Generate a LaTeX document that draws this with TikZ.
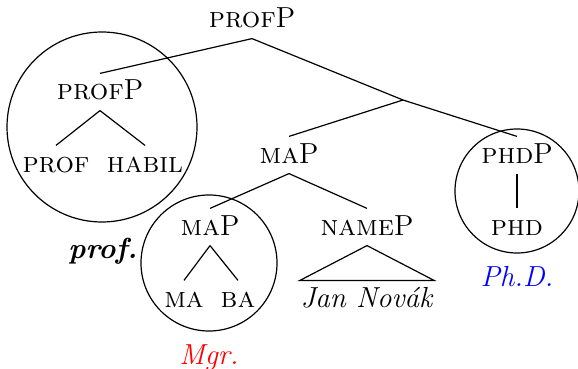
\documentclass[tikz,border=0pt]{standalone}
\usepackage{tikz}
\usepackage{xcolor}
\usetikzlibrary{positioning}
\definecolor{degRed}{RGB}{255,0,0}
\definecolor{degBlue}{RGB}{0,0,255}

\begin{document}
\begin{tikzpicture}[
        x=0.5pt, y=-0.5pt,
        line width=0.6pt,
        cat/.style={anchor=base, inner sep=3pt, text height=10pt, text depth=2pt, font=\fontsize{14.5}{17}\selectfont},
        title/.style={inner sep=0pt, font=\fontsize{14.5}{17}\selectfont\itshape},
        ring/.style={circle, draw, inner sep=0pt}
    ]
        \useasboundingbox (0,0) rectangle (578,369);

        % Rings round the degree phrases
        \node[ring, minimum size=95pt] (profring) at (102,127) {};
        \node[ring, minimum size=68pt] (maring) at (209,263) {};
        \node[ring, minimum size=62pt] (phdring) at (517,191) {};

        % Categories
        \node[cat] (root) at (252,28) {\textsc{prof}P};
        \coordinate (bar) at (403,100);
        \node[cat] (profp) at (100,100) {\textsc{prof}P};
        \node[cat] (prof) at (56,172) {\textsc{prof}};
        \node[cat] (habil) at (145,172) {\textsc{habil}};
        \node[cat] (map) at (289,163) {\textsc{ma}P};
        \node[cat] (phdp) at (517,163) {\textsc{phd}P};
        \node[cat] (phd) at (517,235) {\textsc{phd}};
        \node[cat] (mapin) at (210,235) {\textsc{ma}P};
        \node[cat] (ma) at (184,307) {\textsc{ma}};
        \node[cat] (ba) at (238,307) {\textsc{ba}};
        \node[cat] (namep) at (367,235) {\textsc{name}P};
        \node[cat, inner xsep=0pt] (name) at (367,307) {\textit{Jan Novák}};

        % Branches
        \draw (root.south) -- (profp.north);
        \draw (root.south) -- (bar);
        \draw (bar) -- (map.north);
        \draw (bar) -- (phdp.north);
        \draw (profp.south) -- (prof.north);
        \draw (profp.south) -- (habil.north);
        \draw (map.south) -- (mapin.north);
        \draw (map.south) -- (namep.north);
        \draw (mapin.south) -- (ma.north);
        \draw (mapin.south) -- (ba.north);
        \draw (phdp.south) -- (phd.north);
        \draw (namep.south) -- (name.north west) -- (name.north east) -- cycle;

        % Titles
        \node[title, font=\fontsize{14.5}{17}\selectfont\bfseries\itshape, anchor=base] (proftitle) at (103,258) {prof.};
        \node[title, text=degRed, below=6pt of maring] (mgr) {Mgr.};
        \node[title, text=degBlue, below=6pt of phdring] (phdtitle) {Ph.D.};
    \end{tikzpicture}
\end{document}
